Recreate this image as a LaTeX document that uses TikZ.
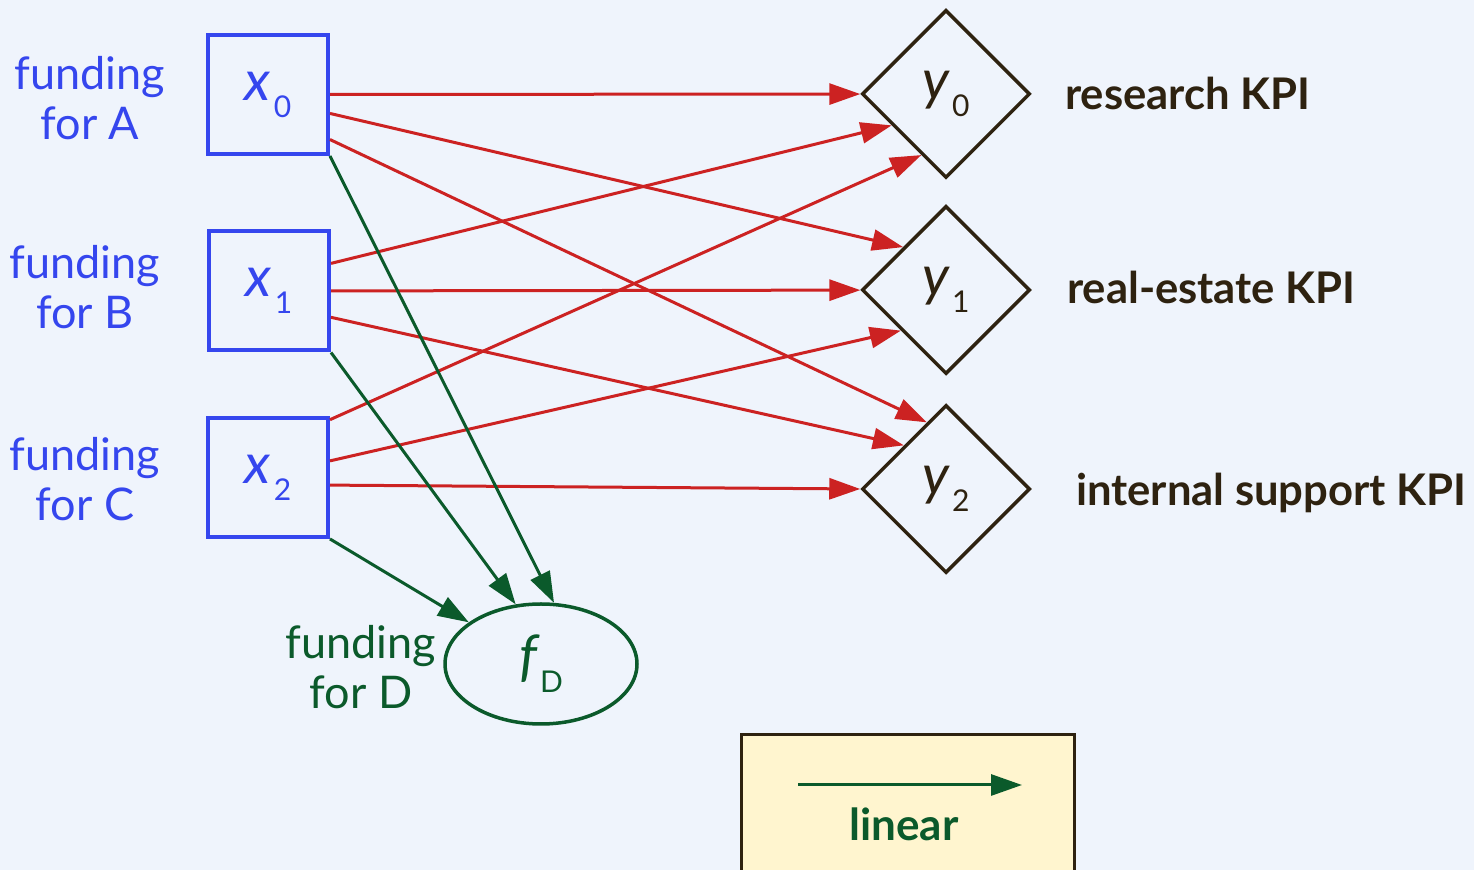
\documentclass[tikz,border=0pt]{standalone}
\usepackage{fontspec}
\setmainfont{Lato}
\usetikzlibrary{arrows.meta,shapes.geometric}

\definecolor{paper}{HTML}{EFF4FC}
\definecolor{fundblue}{HTML}{3546EE}
\definecolor{edgered}{HTML}{CC2222}
\definecolor{lingreen}{HTML}{0B5A2B}
\definecolor{kpibrown}{HTML}{2E2210}
\definecolor{keyfill}{HTML}{FFF5CF}

% variable with upright subscript
\newcommand{\varsub}[2]{{\fontsize{28}{30}\selectfont\itshape #1}\kern1.5pt\raisebox{-8.5pt}{\fontsize{15}{18}\selectfont #2}}

\begin{document}
\begin{tikzpicture}[x=0.5pt,y=-0.5pt,
  label/.style={align=center, font=\fontsize{22.5}{25}\selectfont},
  inbox/.style={draw=fundblue, line width=2pt, minimum width=60pt, minimum height=59.5pt, inner sep=0pt, text=fundblue},
  kpi/.style={diamond, draw=kpibrown, line width=1.75pt, minimum width=84pt, minimum height=84pt, inner sep=0pt, text=kpibrown},
  kpiname/.style={anchor=west, text=kpibrown, font=\fontsize{21.8}{25}\selectfont\bfseries},
  redarrow/.style={-{Triangle[length=15.5pt,width=10.5pt]}, draw=edgered, line width=1.5pt},
  greenarrow/.style={-{Triangle[length=15.5pt,width=10.5pt]}, draw=lingreen, line width=1.5pt}
]
  \clip (0,0) rectangle (1474,870);
  \fill[paper] (0,0) rectangle (1474,870);

  % inputs
  \node[inbox] (x0) at (268,94.5) {\varsub{x}{0}};
  \node[inbox] (x1) at (269,291) {\varsub{x}{1}};
  \node[inbox] (x2) at (268,477.5) {\varsub{x}{2}};
  \node[label, text=fundblue] (la) at (90,98) {funding\\for A};
  \node[label, text=fundblue] (lb) at (85,287) {funding\\for B};
  \node[label, text=fundblue] (lc) at (85,479) {funding\\for C};

  % outputs
  \node[kpi] (y0) at (946,94) {\varsub{y}{0}};
  \node[kpi] (y1) at (946,290) {\varsub{y}{1}};
  \node[kpi] (y2) at (946,489) {\varsub{y}{2}};
  \node[kpiname] (ky0) at (1058,93) {research KPI};
  \node[kpiname] (ky1) at (1060,287) {real-estate KPI};
  \node[kpiname] (ky2) at (1069,493) {internal support KPI};

  % remainder
  \node[ellipse, draw=lingreen, line width=1.75pt, minimum width=96pt, minimum height=60pt, inner sep=0pt, text=lingreen] (fD) at (541,664) {\varsub{f}{D}};
  \node[label, text=lingreen] (ld) at (361,667) {funding\\for D};

  \draw[redarrow] (x0) -- (y0);
  \draw[redarrow] (x0.-17) -- (y1.135);
  \draw[redarrow] (x0.-36) -- (y2.106);
  \draw[redarrow] (x1.24) -- (y0.210);
  \draw[redarrow] (x1) -- (y1);
  \draw[redarrow] (x1.-23) -- (y2.134);
  \draw[redarrow] (x2.43) -- (y0.248);
  \draw[redarrow] (x2.15) -- (y1.222);
  \draw[redarrow] (x2.-7) -- (y2.west);

  \draw[greenarrow] (x0.south east) -- (fD.78);
  \draw[greenarrow] (x1.south east) -- (fD.113);
  \draw[greenarrow] (x2.south east) -- (fD.150);

  % key
  \node[draw=kpibrown, fill=keyfill, line width=1.5pt, minimum width=166.5pt, minimum height=90pt, anchor=north west] (key) at (740,733) {};
  \coordinate (ka) at (798,785);
  \coordinate (kb) at (1022,785);
  \draw[greenarrow] (ka) -- (kb);
  \node[text=lingreen, font=\fontsize{22}{25}\selectfont\bfseries] (lin) at (904,824) {linear};
\end{tikzpicture}
\end{document}
